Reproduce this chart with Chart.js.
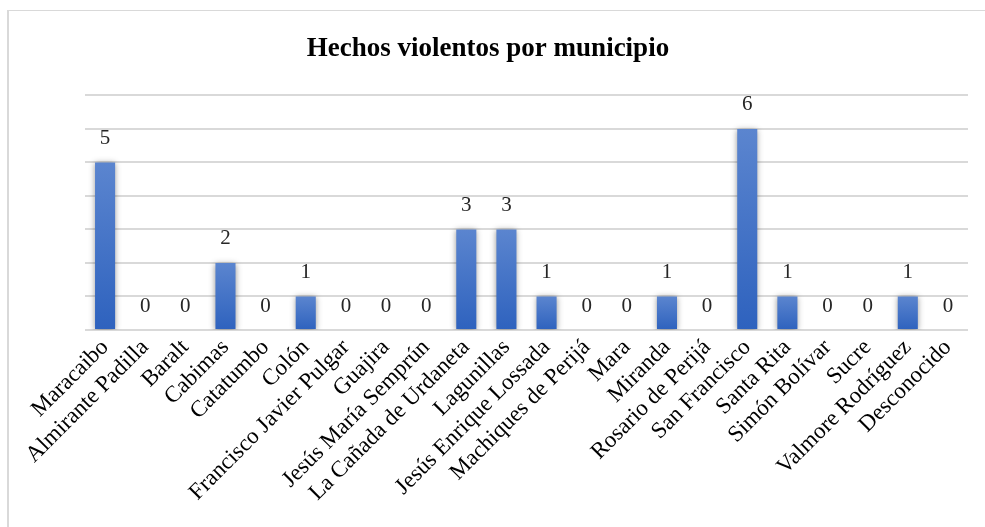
<!DOCTYPE html>
<html>
<head>
<meta charset="utf-8">
<script src="https://cdn.jsdelivr.net/npm/chart.js@4.4.1/dist/chart.umd.min.js"></script>
<style>
  html, body { margin: 0; padding: 0; background: #fff; overflow: hidden; }
  #wrap { position: relative; width: 985px; height: 527px; }
  #frame { position: absolute; left: 7px; top: 10px; width: 1000px; height: 600px;
           border-left: 2px solid #d9d9d9; border-top: 1px solid #d9d9d9; }
  canvas { position: absolute; left: 0; top: 0; }
</style>
</head>
<body>
<div id="wrap">
  <div id="frame"></div>
  <canvas id="barChart" width="985" height="527"></canvas>
</div>
<script>
// municipios y hechos violentos
const municipios = ['Maracaibo', 'Almirante Padilla', 'Baralt', 'Cabimas', 'Catatumbo', 'Colón',
  'Francisco Javier Pulgar', 'Guajira', 'Jesús María Semprún', 'La Cañada de Urdaneta', 'Lagunillas',
  'Jesús Enrique Lossada', 'Machiques de Perijá', 'Mara', 'Miranda', 'Rosario de Perijá',
  'San Francisco', 'Santa Rita', 'Simón Bolívar', 'Sucre', 'Valmore Rodríguez', 'Desconocido'];
const hechos = [5, 0, 0, 2, 0, 1, 0, 0, 0, 3, 3, 1, 0, 0, 1, 0, 6, 1, 0, 0, 1, 0];

const serif = "'Liberation Serif', 'Times New Roman', serif";

// sombra de las barras + etiquetas de valor
const barExtras = {
  id: 'barExtras',
  beforeDatasetsDraw(chart) {
    const ctx = chart.ctx;
    ctx.save();
    ctx.shadowColor = 'rgba(0,0,0,0.4)';
    ctx.shadowBlur = 6;
    ctx.shadowOffsetY = 1;
  },
  afterDatasetsDraw(chart) {
    const ctx = chart.ctx;
    ctx.restore();
    ctx.save();
    ctx.font = '21px ' + serif;
    ctx.fillStyle = '#262626';
    ctx.textAlign = 'center';
    ctx.textBaseline = 'middle';
    const meta = chart.getDatasetMeta(0);
    meta.data.forEach((bar, i) => {
      ctx.fillText(String(hechos[i]), bar.x, bar.y - 24);
    });
    ctx.restore();
  }
};

const ctx = document.getElementById('barChart').getContext('2d');
new Chart(ctx, {
  type: 'bar',
  data: {
    labels: municipios,
    datasets: [{
      label: 'Hechos',
      data: hechos,
      backgroundColor: (c) => {
        const chart = c.chart;
        if (!chart.chartArea || c.type !== 'data') return '#3a6bc4';
        const y = chart.scales.y;
        const top = y.getPixelForValue(c.raw);
        const base = y.getPixelForValue(0);
        if (top >= base) return '#3a6bc4';
        const g = chart.ctx.createLinearGradient(0, top, 0, base);
        g.addColorStop(0, '#5b85cf');
        g.addColorStop(1, '#2e62be');
        return g;
      },
      borderWidth: 0,
      barPercentage: 0.5,
      categoryPercentage: 1
    }]
  },
  options: {
    responsive: false,
    animation: false,
    layout: { padding: { left: 8, right: 17, top: 11, bottom: 0 } },
    plugins: {
      legend: { display: false },
      tooltip: { enabled: false },
      title: {
        display: true,
        text: 'Hechos violentos por municipio',
        color: '#000',
        font: { family: serif, size: 27, weight: 'bold' },
        padding: { top: 22, bottom: 30 }
      }
    },
    scales: {
      x: {
        grid: { display: false, drawTicks: false },
        border: { display: false },
        ticks: {
          autoSkip: false,
          maxRotation: 45,
          minRotation: 45,
          padding: 4,
          color: '#000',
          font: { family: serif, size: 23 }
        },
        afterFit: (s) => { s.height = 197; }
      },
      y: {
        min: 0,
        max: 7,
        ticks: { display: false, stepSize: 1 },
        grid: { color: '#d9d9d9', lineWidth: 2, drawTicks: false },
        border: { display: false },
        afterFit: (s) => { s.width = 77; }
      }
    }
  },
  plugins: [barExtras]
});
</script>
</body>
</html>
